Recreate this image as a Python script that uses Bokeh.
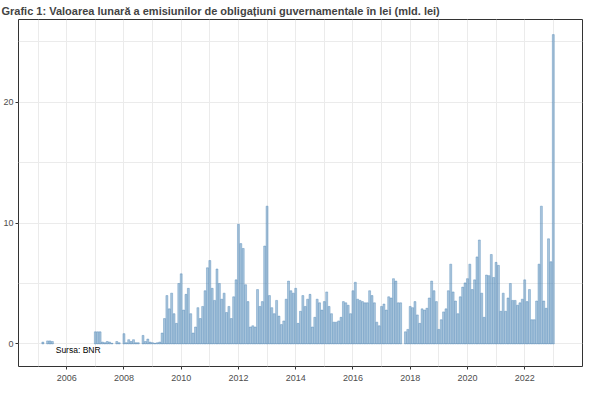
from bokeh.plotting import figure
from bokeh.models import Range1d, FixedTicker, ColumnDataSource
from bokeh.embed import file_html
from bokeh.resources import INLINE

# Monthly values (bn lei), Jan..Dec per year
v2005 = [0, 0, 0.15, 0, 0.25, 0.25, 0.2, 0, 0, 0, 0, 0]
v2006 = [0, 0, 0, 0, 0, 0, 0, 0, 0, 0, 0, 0]
v2007 = [1.0, 1.0, 1.0, 0.15, 0.1, 0.2, 0.15, 0.05, 0, 0.2, 0.1, 0]
v2008 = [0.85, 0.1, 0.35, 0.2, 0.35, 0.1, 0.1, 0, 0.7, 0.2, 0.4, 0.15]
v2009 = [0.1, 0.05, 0.1, 0.15, 0.9, 2.1, 4.0, 2.9, 4.2, 2.5, 1.7, 5.0]
v2010 = [5.8, 2.8, 4.1, 4.6, 2.5, 0.9, 1.4, 3.0, 2.1, 3.1, 4.4, 6.3]
v2011 = [6.9, 4.6, 3.6, 6.2, 5.0, 3.7, 4.2, 2.6, 3.1, 2.1, 3.9, 5.3]
v2012 = [9.9, 8.3, 7.9, 4.9, 3.5, 1.4, 1.5, 1.4, 4.5, 3.1, 3.5, 8.1]
v2013 = [11.4, 4.0, 3.0, 2.5, 3.6, 2.3, 1.6, 1.9, 3.7, 5.2, 4.4, 4.2]
v2014 = [4.6, 1.7, 2.7, 4.0, 3.1, 3.7, 4.1, 1.4, 2.2, 3.7, 3.4, 2.8]
v2015 = [3.5, 4.3, 3.1, 2.5, 1.8, 1.8, 1.9, 2.2, 3.5, 3.4, 3.2, 2.5]
v2016 = [4.4, 5.1, 3.7, 3.6, 3.5, 3.4, 3.4, 4.4, 4.0, 3.4, 1.8, 1.5]
v2017 = [3.1, 3.3, 2.8, 3.9, 3.8, 5.4, 5.2, 3.4, 3.4, 0, 1.0, 1.2]
v2018 = [3.1, 3.0, 3.5, 2.4, 1.7, 2.9, 2.8, 2.95, 3.8, 5.2, 4.4, 3.5]
v2019 = [1.2, 2.0, 2.65, 2.9, 4.4, 6.6, 4.3, 3.55, 2.5, 3.9, 4.7, 5.05]
v2020 = [5.4, 6.6, 4.5, 5.3, 7.2, 8.6, 4.2, 2.2, 5.7, 5.65, 7.4, 5.5]
v2021 = [6.75, 6.5, 2.7, 4.2, 2.7, 3.8, 5.0, 3.6, 3.6, 3.2, 3.4, 3.7]
v2022 = [5.3, 3.5, 4.5, 2.0, 2.0, 3.55, 6.6, 11.4, 3.55, 2.95, 8.7, 6.8]
v2023 = [25.6]

years = list(range(2005, 2024))
series = [v2005, v2006, v2007, v2008, v2009, v2010, v2011, v2012, v2013,
          v2014, v2015, v2016, v2017, v2018, v2019, v2020, v2021, v2022, v2023]

x_ticks = [2006, 2008, 2010, 2012, 2014, 2016, 2018, 2020, 2022]
x_labels = ["2006", "2008", "2010", "2012", "2014", "2016", "2018", "2020", "2022"]
x_minor = [2005, 2007, 2009, 2011, 2013, 2015, 2017, 2019, 2021, 2023]
y_ticks = [0, 10, 20]
y_minor = [5, 15, 25]

title_text = "Grafic 1: Valoarea lunară a emisiunilor de obligațiuni guvernamentale în lei (mld. lei)"
source_text = "Sursa: BNR"

xs, tops = [], []
for yr, vals in zip(years, series):
    for m, v in enumerate(vals):
        if v > 0:
            xs.append(yr + m / 12.0)
            tops.append(v)

src = ColumnDataSource(dict(x=xs, top=tops))

FONT = "Liberation Sans"

p = figure(width=584, height=383, output_backend="svg", toolbar_location=None,
           x_range=Range1d(2004.316, 2024.02), y_range=Range1d(-1.87, 26.85),
           min_border_left=17, min_border_right=2, min_border_top=0, min_border_bottom=0)

p.vbar(x="x", top="top", bottom=0, width=0.068, source=src,
       fill_color="#4682B4", fill_alpha=0.45,
       line_color="#4682B4", line_alpha=0.65, line_width=0.6)

p.text(x=[2006.4], y=[-0.5], text=[source_text], text_align="center",
       text_baseline="middle", text_font_size="8.5px", text_color="#000000",
       text_font={"value": FONT})

p.xaxis.ticker = FixedTicker(ticks=x_ticks, minor_ticks=x_minor)
p.xaxis.major_label_overrides = {t: l for t, l in zip(x_ticks, x_labels)}
p.yaxis.ticker = FixedTicker(ticks=y_ticks, minor_ticks=y_minor)

for ax in (p.xaxis, p.yaxis):
    ax.axis_line_color = None
    ax.major_tick_line_color = "#333333"
    ax.major_tick_out = 3
    ax.major_tick_in = 0
    ax.minor_tick_line_color = None
    ax.minor_tick_out = 0
    ax.minor_tick_in = 0
    ax.major_label_text_font = FONT
    ax.major_label_text_font_size = "9px"
    ax.major_label_text_color = "#4D4D4D"
    ax.major_label_standoff = 2
    ax.axis_label = None
    ax.axis_label_standoff = 0
p.xaxis.major_label_standoff = 5

for g in (p.xgrid, p.ygrid):
    g.grid_line_color = "#EBEBEB"
    g.grid_line_width = 1
    g.minor_grid_line_color = "#EBEBEB"
    g.minor_grid_line_width = 1

p.outline_line_color = "#333333"
p.outline_line_width = 1
p.background_fill_color = "white"
p.border_fill_color = "white"

p.title.text = title_text
p.title.text_font = FONT
p.title.text_font_style = "bold"
p.title.text_font_size = "11px"
p.title.align = "left"
p.title.offset = -17
p.title.standoff = 5

open("out.html", "w").write(file_html(p, INLINE))
